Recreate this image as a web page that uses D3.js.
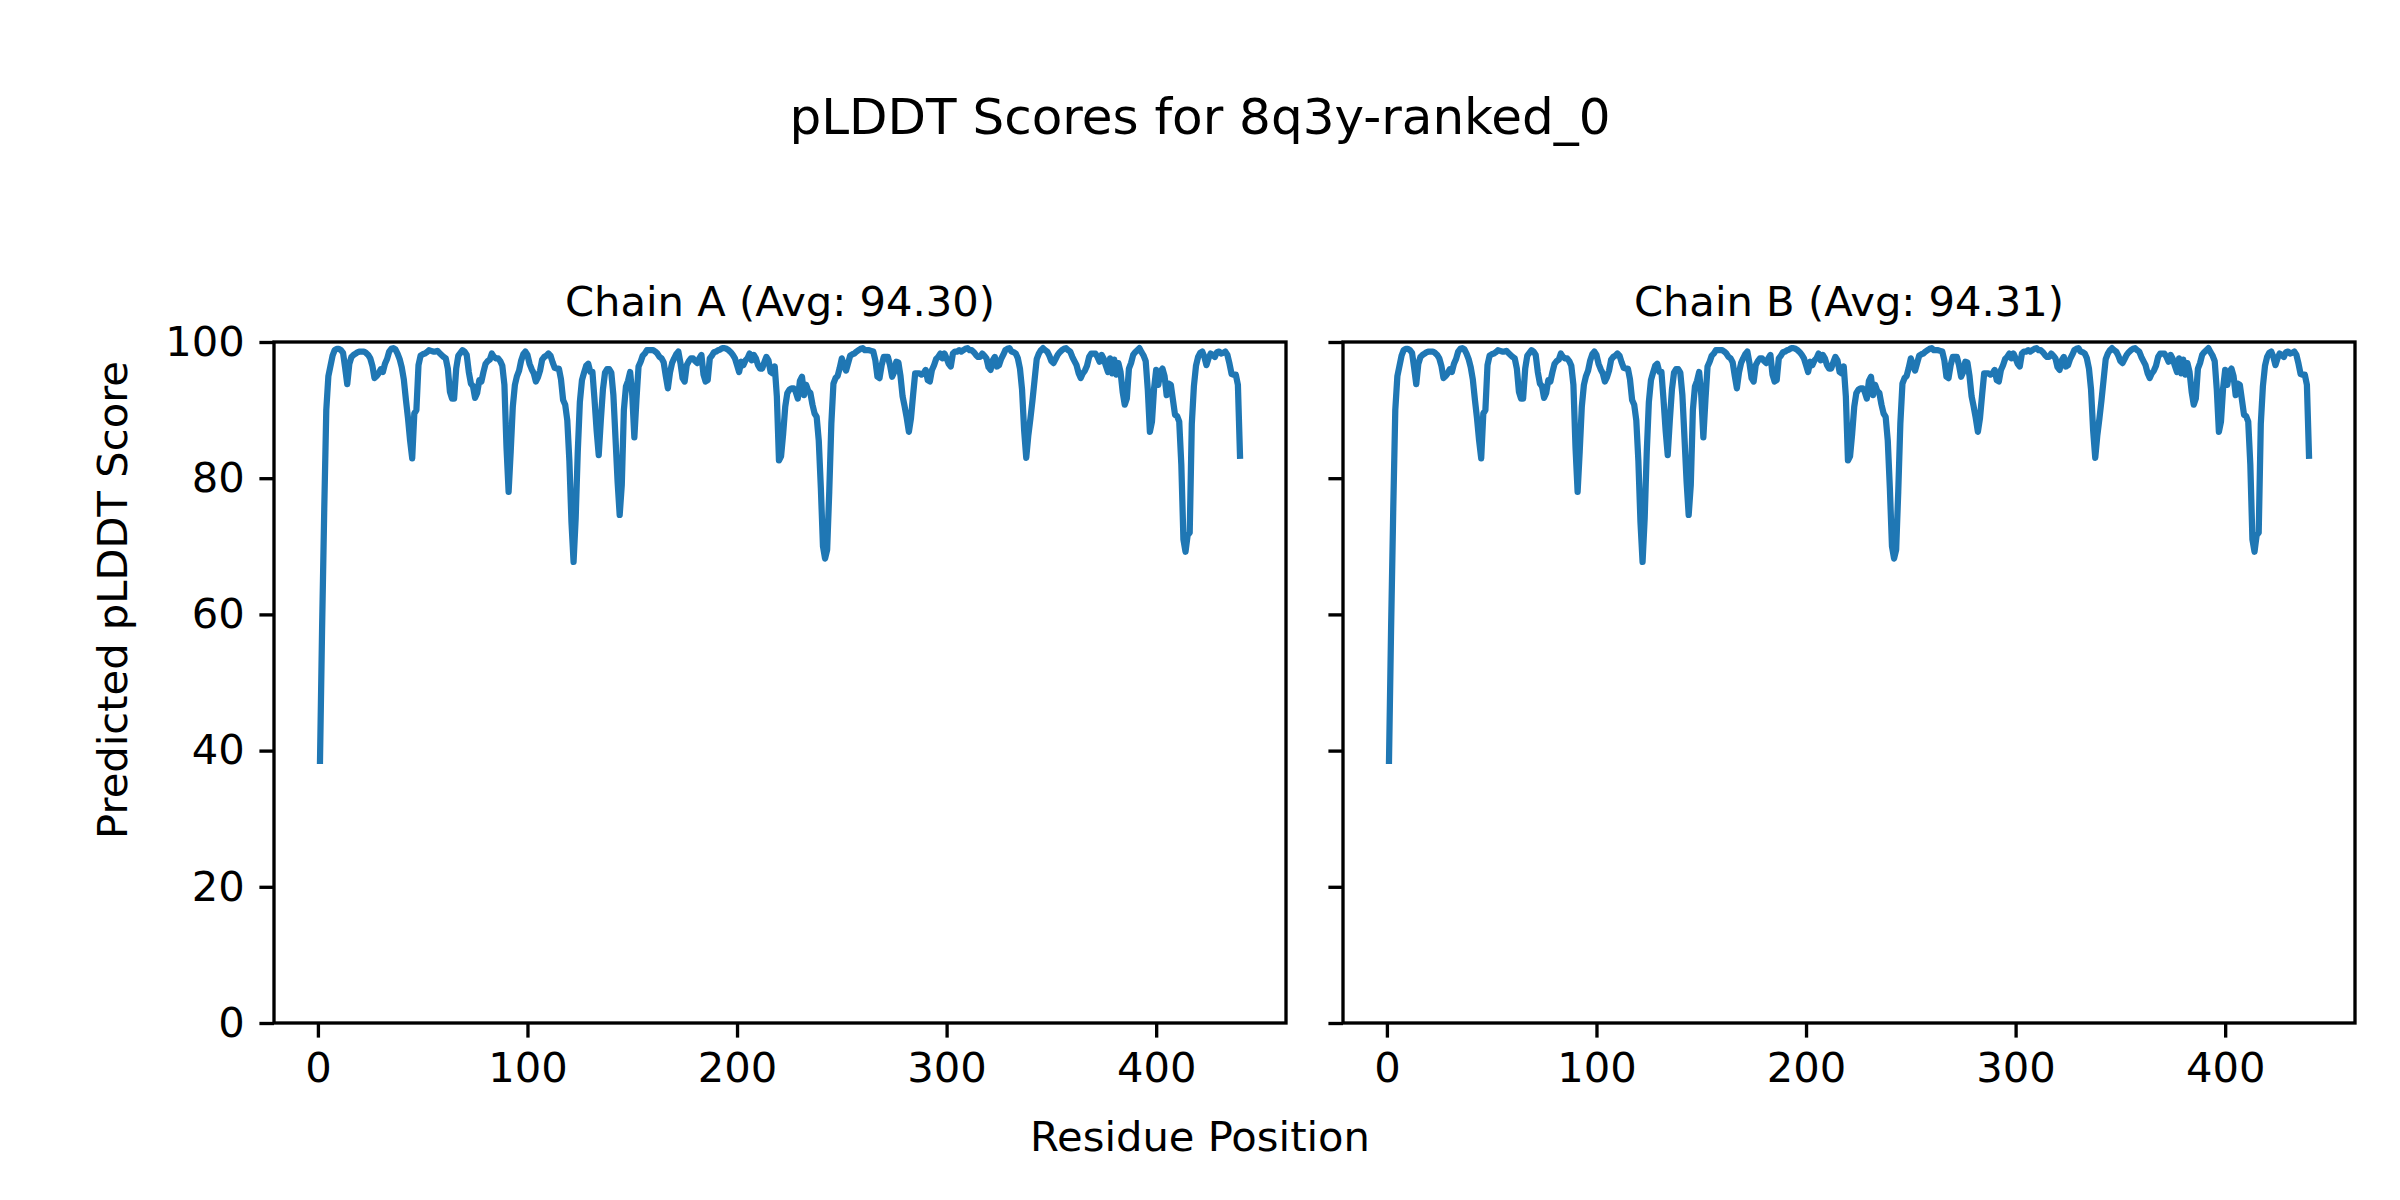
<!DOCTYPE html>
<html>
<head>
<meta charset="utf-8">
<script src="https://cdn.jsdelivr.net/npm/d3@7"></script>
<style>
  body { margin: 0; background: #fff; }
  svg { display: block; }
  text { font-family: "DejaVu Sans", sans-serif; fill: #000; }
</style>
</head>
<body>
<div id="chart"></div>
<script>
// pLDDT per residue (residue 1..440)
const chainAScores = [
  38.5, 58, 75, 90, 95, 96.5, 98, 98.8, 99, 99,
  98.8, 98.4, 96.2, 93.8, 96.8, 97.8, 98.1, 98.3, 98.5, 98.6,
  98.6, 98.6, 98.4, 98.1, 97.6, 96.5, 94.7, 95, 95.4, 96,
  95.6, 96.8, 97.5, 98.6, 99, 99.1, 98.9, 98.3, 97.5, 96.3,
  94.5, 91.5, 88.8, 85.5, 82.9, 89.5, 90, 96.6, 98, 98.2,
  98.3, 98.5, 98.8, 98.7, 98.6, 98.6, 98.7, 98.4, 98.1, 97.8,
  97.6, 96.1, 92.7, 91.7, 91.7, 96.1, 98, 98.4, 98.8, 98.6,
  98.1, 95.6, 93.9, 93.5, 91.8, 92.5, 94.4, 94.2, 95.6, 96.8,
  97.2, 97.4, 98.3, 97.8, 97.6, 97.6, 97.2, 96.5, 93.7, 84.5,
  78, 83.9, 90.5, 93.7, 95, 95.8, 97.3, 98.2, 98.6, 98.1,
  96.8, 96, 95.4, 94.2, 94.8, 95.8, 97.4, 97.8, 98, 98.3,
  98, 97, 96.2, 96.1, 96.1, 94.5, 91.5, 90.8, 88.5, 82.5,
  73.5, 67.7, 74.1, 83.9, 91.2, 94.4, 95.5, 96.5, 96.8, 95.6,
  95.6, 91.5, 87, 83.4, 88.5, 93, 95.5, 96, 96, 95.5,
  92.2, 85.9, 79.5, 74.6, 79, 90, 93.5, 94.3, 95.6, 92.2,
  86, 91.5, 96.4, 97.1, 98, 98.3, 98.8, 98.8, 98.8, 98.8,
  98.6, 98.3, 97.8, 97.6, 97, 95, 93.2, 95.5, 96.9, 97.6,
  98.2, 98.6, 96.9, 94.7, 94.2, 96.6, 97.2, 97.6, 97.6, 97.2,
  96.9, 97.6, 98.1, 95.2, 94.2, 94.4, 97.6, 98, 98.5, 98.6,
  98.8, 98.9, 99.1, 99.1, 99, 98.8, 98.5, 98.1, 97.6, 96.6,
  95.6, 97.1, 96.6, 97.3, 97.6, 98.3, 97.3, 98.1, 97.6, 96.6,
  96.1, 96.1, 97, 97.8, 97.3, 95.6, 95.4, 96.4, 92, 82.6,
  83.2, 86.5, 90.5, 92.5, 93, 93.2, 93.2, 92.7, 91.7, 94.3,
  94.9, 92.2, 93.7, 92.8, 92.5, 90.8, 89.5, 89, 85.5, 78.5,
  70, 68.2, 69.5, 78, 88, 93.9, 94.7, 95, 96.2, 97.6,
  96.6, 95.8, 96.9, 98, 98.2, 98.3, 98.6, 98.8, 99, 99.1,
  98.8, 98.8, 98.8, 98.7, 98.6, 97.3, 94.9, 94.7, 96.6, 97.8,
  97.8, 97.8, 96.6, 94.9, 95.6, 97.1, 97, 95, 92, 90.5,
  88.8, 86.8, 88.8, 92.2, 95.4, 95.4, 95.4, 95.2, 95.4, 95.9,
  94.4, 94.2, 95.9, 96.6, 97.5, 97.8, 98.3, 97.6, 98.3, 97.6,
  96.8, 96.4, 98.3, 98.6, 98.6, 98.8, 98.6, 98.8, 99, 99.1,
  98.8, 98.8, 98.5, 98.1, 97.8, 97.8, 98.3, 98, 97.6, 96.3,
  95.9, 97.3, 97.8, 96.4, 96.6, 97.5, 98.1, 98.8, 99, 99.1,
  98.6, 98.5, 98.3, 97.6, 96.1, 93, 87, 83, 86.3, 88.8,
  91.5, 94.5, 97.5, 98.3, 98.8, 99.1, 98.8, 98.6, 98, 97.2,
  96.9, 97.5, 98.1, 98.5, 98.8, 99, 99.1, 98.8, 98.6, 97.8,
  97.2, 96.6, 95.4, 94.7, 95.4, 95.8, 96.5, 97.8, 98.3, 98.3,
  98.3, 97.8, 97.1, 98.1, 97.5, 96.5, 95.6, 97.6, 95.4, 97.4,
  95.2, 96.9, 95.6, 92.7, 90.8, 91.7, 96.1, 96.9, 98.1, 98.5,
  98.8, 99.1, 98.5, 98, 97.2, 93, 86.8, 88.3, 93.2, 95.9,
  93.7, 95.6, 96.1, 95, 92.2, 93.9, 93.7, 91.5, 89.3, 89.1,
  88.3, 82, 71, 69.2, 71.6, 72, 88, 93.5, 96.5, 97.8,
  98.4, 98.6, 97.8, 96.6, 97.6, 98.3, 98.1, 97.8, 98.5, 98.6,
  98.3, 98.4, 98.6, 98.1, 96.8, 95.3, 95.2, 95.2, 93.7, 83.3
];
// chain B reads the same as chain A in the picture
const chainBScores = chainAScores.slice();

const chainNames = ['A', 'B'];
const chainAverages = ['94.30', '94.31'];
const xTicks = [0, 100, 200, 300, 400];
const yTicks = [0, 20, 40, 60, 80, 100];

const width = 2400, height = 1200;
const plotTop = 342, plotBottom = 1023;
const panels = [
  { left: 274, right: 1286, scores: chainAScores },
  { left: 1343, right: 2355, scores: chainBScores }
];
const fontPx = 41.67;
const tickLen = 14.6;
const lineW = 3.33;

const svg = d3.select('#chart').append('svg')
  .attr('width', width)
  .attr('height', height);

svg.append('rect').attr('width', width).attr('height', height).attr('fill', '#fff');

// suptitle
svg.append('text')
  .attr('x', width / 2)
  .attr('y', 134)
  .attr('text-anchor', 'middle')
  .style('font-size', '50px')
  .text('pLDDT Scores for 8q3y-ranked_0');

panels.forEach((p, i) => {
  const n = p.scores.length;
  const x = d3.scaleLinear()
    .domain([1 - (n - 1) * 0.05, n + (n - 1) * 0.05])
    .range([p.left, p.right]);
  const y = d3.scaleLinear().domain([0, 100]).range([plotBottom, plotTop]);

  const g = svg.append('g');

  const clipId = 'clip' + i;
  g.append('clipPath').attr('id', clipId)
    .append('rect')
    .attr('x', p.left).attr('y', plotTop)
    .attr('width', p.right - p.left).attr('height', plotBottom - plotTop);

  const line = d3.line()
    .x((d, j) => x(j + 1))
    .y(d => y(d));

  g.append('path')
    .datum(p.scores)
    .attr('clip-path', `url(#${clipId})`)
    .attr('fill', 'none')
    .attr('stroke', '#1f77b4')
    .attr('stroke-width', 6.25)
    .attr('stroke-linejoin', 'round')
    .attr('stroke-linecap', 'square')
    .attr('d', line);

  // x axis
  const xAxis = g.append('g')
    .attr('transform', `translate(0,${plotBottom})`)
    .call(d3.axisBottom(x).tickValues(xTicks).tickSize(tickLen).tickPadding(tickLen));
  // y axis, labels only on the first panel
  const yAxis = g.append('g')
    .attr('transform', `translate(${p.left},0)`)
    .call(d3.axisLeft(y).tickValues(yTicks).tickSize(tickLen).tickPadding(tickLen)
      .tickFormat(i === 0 ? d3.format('d') : () => ''));

  [xAxis, yAxis].forEach(a => {
    a.select('.domain').remove();
    a.selectAll('.tick line').attr('stroke', '#000').attr('stroke-width', lineW);
    a.selectAll('.tick text')
      .style('font-size', fontPx + 'px')
      .style('font-family', '"DejaVu Sans", sans-serif')
      .attr('fill', '#000');
  });

  // spines
  g.append('rect')
    .attr('x', p.left).attr('y', plotTop)
    .attr('width', p.right - p.left).attr('height', plotBottom - plotTop)
    .attr('fill', 'none')
    .attr('stroke', '#000')
    .attr('stroke-width', lineW);

  // panel title
  g.append('text')
    .attr('x', (p.left + p.right) / 2)
    .attr('y', 316)
    .attr('text-anchor', 'middle')
    .style('font-size', fontPx + 'px')
    .text(`Chain ${chainNames[i]} (Avg: ${chainAverages[i]})`);
});

// shared axis labels
svg.append('text')
  .attr('x', width / 2)
  .attr('y', 1151)
  .attr('text-anchor', 'middle')
  .style('font-size', fontPx + 'px')
  .text('Residue Position');

svg.append('text')
  .attr('transform', 'translate(127,600) rotate(-90)')
  .attr('text-anchor', 'middle')
  .style('font-size', fontPx + 'px')
  .text('Predicted pLDDT Score');
</script>
</body>
</html>
